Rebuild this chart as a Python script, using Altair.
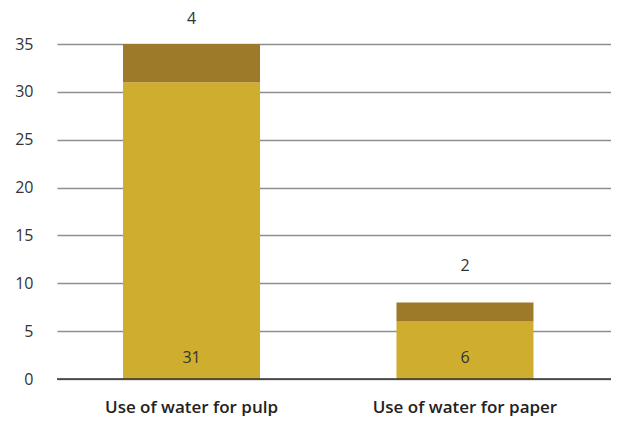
import altair as alt
import pandas as pd

categories = ["Use of water for pulp", "Use of water for paper"]
base_values = [31, 6]
top_values = [4, 2]
series = ["Base", "Top"]
colors = ["#CFAD2F", "#9C7A29"]

rows = []
for c, b, t in zip(categories, base_values, top_values):
    rows.append({"cat": c, "series": series[0], "value": b, "ord": 0})
    rows.append({"cat": c, "series": series[1], "value": t, "ord": 1})
df = pd.DataFrame(rows)

totals = pd.DataFrame({"cat": categories, "total": [b + t for b, t in zip(base_values, top_values)],
                       "top": top_values, "base": base_values})

FONT = "Open Sans"
xscale = alt.Scale(domain=categories, paddingInner=0.5, paddingOuter=0.263, align=0.46)
yscale = alt.Scale(domain=[0, 35], nice=False)

bars = alt.Chart(df).mark_bar(size=137).encode(
    x=alt.X("cat:N", scale=xscale, sort=categories,
            axis=alt.Axis(title=None, labelAngle=0, ticks=False, domain=False,
                          labelFontSize=17, labelFont=FONT, labelFontWeight=600,
                          labelColor="#222", labelPadding=20, labelLimit=400)),
    y=alt.Y("value:Q", stack="zero", scale=yscale,
            axis=alt.Axis(title=None, values=[0, 5, 10, 15, 20, 25, 30, 35],
                          ticks=False, domain=False, grid=True, gridColor="#8e8e8e",
                          gridWidth=1.5, labelFontSize=16, labelFont=FONT,
                          labelColor="#333", labelPadding=24)),
    color=alt.Color("series:N", scale=alt.Scale(domain=series, range=colors), legend=None),
    order=alt.Order("ord:Q"),
)

zero = alt.Chart(pd.DataFrame({"z": [0]})).mark_rule(color="#333", strokeWidth=1.5).encode(
    y=alt.Y("z:Q", scale=yscale)
)

base_text = alt.Chart(totals).mark_text(fontSize=16, font=FONT, color="#333", dy=-16,
                                        baseline="alphabetic").encode(
    x=alt.X("cat:N", scale=xscale, sort=categories),
    y=alt.value(335),
    text="base:Q",
)

top_text1 = alt.Chart(totals).transform_filter(alt.datum.cat == categories[0]).mark_text(
    fontSize=16, font=FONT, color="#333", dy=-25, baseline="middle").encode(
    x=alt.X("cat:N", scale=xscale, sort=categories),
    y=alt.Y("total:Q", scale=yscale),
    text="top:Q",
)
top_text2 = alt.Chart(totals).transform_filter(alt.datum.cat == categories[1]).mark_text(
    fontSize=16, font=FONT, color="#333", dy=-36, baseline="middle").encode(
    x=alt.X("cat:N", scale=xscale, sort=categories),
    y=alt.Y("total:Q", scale=yscale),
    text="top:Q",
)

chart = alt.layer(bars, zero, base_text, top_text1, top_text2).properties(
    width=554, height=335,
    autosize=alt.AutoSizeParams(type="none"),
    padding={"left": 49, "top": 36, "right": 0, "bottom": 37},
).configure_view(stroke=None)

chart.save("out.html", embed_options={"renderer": "svg", "actions": False})
